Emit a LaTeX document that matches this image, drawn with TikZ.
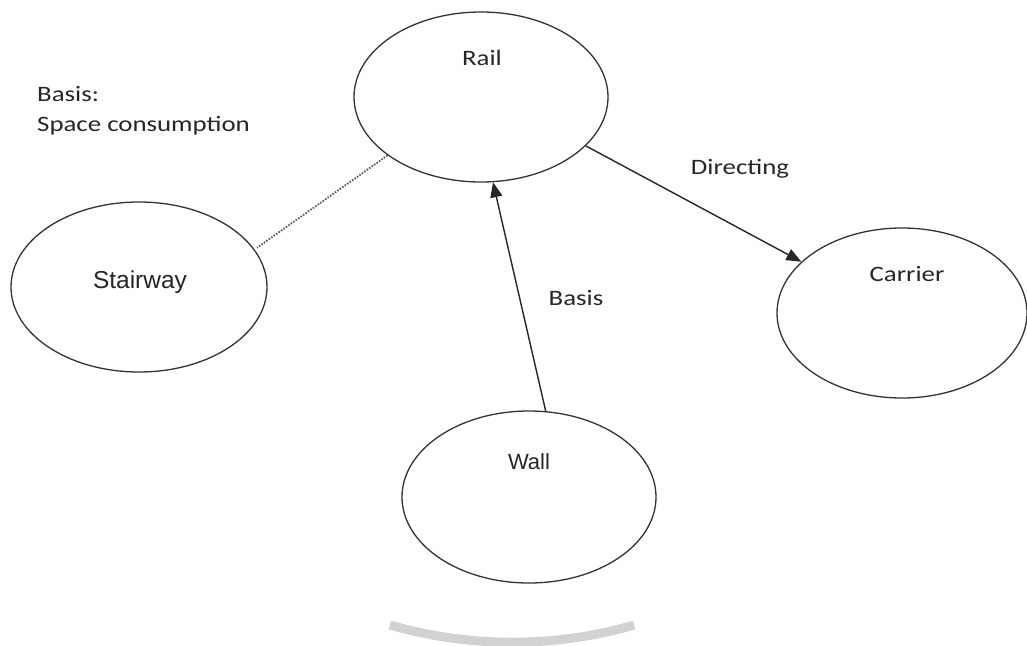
\documentclass[tikz,border=0pt]{standalone}
\usepackage{fontspec}
\setmainfont{Carlito}[FakeStretch=1.22]
\newfontfamily\arialish{Liberation Sans}
\usetikzlibrary{shapes.geometric,arrows.meta}
\begin{document}
\begin{tikzpicture}[x=1pt,y=-1pt,
  bubble/.style={ellipse,draw=black!80,line width=1.3pt,inner sep=0pt},
  lbl/.style={inner sep=0pt,text=black!85,font=\fontsize{22}{26}\selectfont},
  albl/.style={inner sep=0pt,text=black!85},
  arrowline/.style={draw=black!85,line width=1.4pt,-{Triangle[length=15pt,width=12pt]}},
  dotline/.style={draw=black!65,line width=1.8pt,dash pattern=on 1.6pt off 1.4pt}]
\useasboundingbox (0,0) rectangle (1027,645);
\fill[white] (0,0) rectangle (1027,645);

% the four concepts
\node[bubble,minimum width=254pt,minimum height=170pt] (rail)    at (481,97)  {};
\node[bubble,minimum width=256pt,minimum height=170pt] (stair)   at (139,287) {};
\node[bubble,minimum width=250pt,minimum height=170pt] (carrier) at (902,313) {};
\node[bubble,minimum width=254pt,minimum height=172pt] (wall)    at (529,497) {};

% their names
\node[lbl] (railtxt) at (482,58) {Rail};
\node[lbl] (carriertxt) at (907,274) {Carrier};
\node[albl,font=\arialish\fontsize{24.5}{28}\selectfont] (stairtxt) at (140,282) {Stairway};
\node[albl,font=\arialish\fontsize{22}{26}\selectfont] (walltxt) at (529,462) {Wall};

% relations
\draw[arrowline] (wall.79.3) -- (rail.-82.6);
\draw[arrowline] (rail.-25.7) -- (carrier.153);
\draw[dotline,shorten >=3pt] (rail.212.6) -- (stair.18);

% relation labels
\node[lbl] (basistxt) at (576,298) {Basis};
\node[lbl] (directtxt) at (740,169) {Directing};
\node[lbl,anchor=west,align=left] (spacetxt) at (37,111) {Basis:\\[4pt]Space consumption};

% faint grey band at the foot of the page
\draw[gray!35,line width=9pt] (390,625) .. controls (470,648) and (555,648) .. (634,625);
\end{tikzpicture}
\end{document}
